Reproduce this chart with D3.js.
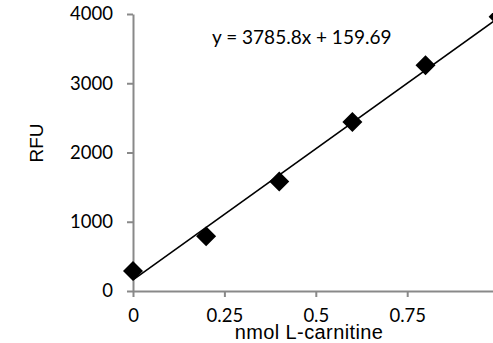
<!DOCTYPE html>
<html>
<head>
<meta charset="utf-8">
<script src="https://cdn.jsdelivr.net/npm/d3@7"></script>
<style>
  html, body { margin: 0; padding: 0; background: #fff; overflow: hidden; }
  svg { display: block; }
</style>
</head>
<body>
<svg id="chart" width="493" height="343"></svg>
<script>
// ---- data ----
const xValues = [0, 0.2, 0.4, 0.6, 0.8, 1.0];
const rfuValues = [290, 790, 1580, 2440, 3260, 3960];
const xTicks = [0, 0.25, 0.5, 0.75];
const xTickLabels = ["0", "0.25", "0.5", "0.75"];
const yTicks = [0, 1000, 2000, 3000, 4000];
const yTickLabels = ["0", "1000", "2000", "3000", "4000"];
const trendSlope = 3785.8;
const trendIntercept = 159.69;
const equationLabel = "y = 3785.8x + 159.69";
const xTitle = "nmol L-carnitine";
const yTitle = "RFU";

// ---- layout ----
const svg = d3.select("#chart");
const x = d3.scaleLinear().domain([0, 1]).range([133, 498.6]);
const y = d3.scaleLinear().domain([0, 4000]).range([291, 14]);
const axisColor = "#898989";
const tickFont = "Lato, 'Open Sans', sans-serif";
const titleFont = "'Liberation Sans', Arial, sans-serif";

// axes
const yAxis = svg.append("g").attr("transform", `translate(${x(0)},0)`)
  .call(d3.axisLeft(y).tickValues(yTicks).tickFormat((d, i) => yTickLabels[i]).tickSize(6).tickSizeOuter(0).tickPadding(14));
const xAxis = svg.append("g").attr("transform", `translate(0,${y(0)})`)
  .call(d3.axisBottom(x).tickValues(xTicks).tickFormat((d, i) => xTickLabels[i]).tickSize(6).tickSizeOuter(0).tickPadding(12));

[xAxis, yAxis].forEach(g => {
  g.select(".domain").attr("stroke", axisColor).attr("stroke-width", 2);
  g.selectAll(".tick line").attr("stroke", axisColor).attr("stroke-width", 2);
  g.selectAll(".tick text").attr("fill", "#000").attr("font-family", tickFont).attr("font-size", 18.5);
});

// trendline
const trendX = d3.extent(xValues);
svg.append("line")
  .attr("x1", x(trendX[0])).attr("y1", y(trendSlope * trendX[0] + trendIntercept))
  .attr("x2", x(trendX[1])).attr("y2", y(trendSlope * trendX[1] + trendIntercept))
  .attr("stroke", "#000").attr("stroke-width", 1.6);

// markers (square diamonds)
const diamond = d3.symbol().type(d3.symbolSquare).size(200);
svg.append("g").selectAll("path")
  .data(xValues.map((d, i) => ({ x: d, y: rfuValues[i] })))
  .join("path")
  .attr("d", diamond)
  .attr("transform", d => `translate(${x(d.x)},${y(d.y)}) rotate(45)`)
  .attr("fill", "#000");

// equation label
svg.append("text")
  .attr("x", 212).attr("y", 44)
  .attr("font-family", tickFont).attr("font-size", 19)
  .attr("fill", "#000")
  .text(equationLabel);

// axis titles
svg.append("text")
  .attr("x", 309).attr("y", 339)
  .attr("text-anchor", "middle")
  .attr("font-family", titleFont).attr("font-size", 20)
  .attr("letter-spacing", 0.4)
  .attr("fill", "#000")
  .text(xTitle);

svg.append("text")
  .attr("transform", "translate(43,143) rotate(-90)")
  .attr("text-anchor", "middle")
  .attr("font-family", titleFont).attr("font-size", 19)
  .attr("fill", "#000")
  .text(yTitle);
</script>
</body>
</html>
